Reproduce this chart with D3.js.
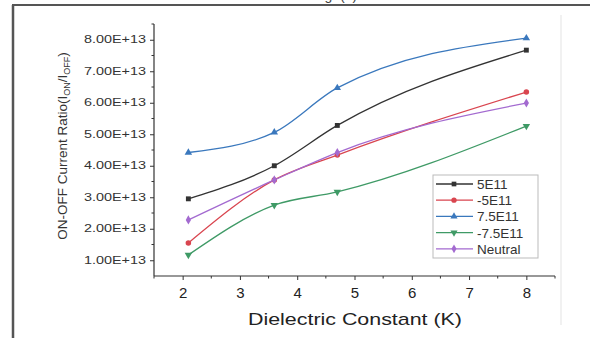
<!DOCTYPE html>
<html>
<head>
<meta charset="utf-8">
<script src="https://cdn.jsdelivr.net/npm/d3@7"></script>
<style>
  body { margin: 0; background: #fff; }
  svg { display: block; font-family: "Liberation Sans", Arial, sans-serif; }
</style>
</head>
<body>
<svg id="chart" width="590" height="338"></svg>
<script>
// data
const kValues = [2.1, 3.6, 4.7, 8];
const s5E11   = [2.95e13, 4.0e13, 5.28e13, 7.67e13];
const sM5E11  = [1.55e13, 3.55e13, 4.34e13, 6.34e13];
const s75E11  = [4.42e13, 5.06e13, 6.47e13, 8.05e13];
const sM75E11 = [1.17e13, 2.75e13, 3.17e13, 5.26e13];
const sNeutral = [2.28e13, 3.55e13, 4.42e13, 5.99e13];
const seriesNames = ["5E11", "-5E11", "7.5E11", "-7.5E11", "Neutral"];
const xTicks = [2, 3, 4, 5, 6, 7, 8];
const yTicks = [1e13, 2e13, 3e13, 4e13, 5e13, 6e13, 7e13, 8e13];

const series = [
  {name: seriesNames[0], vals: s5E11,   color: "#333333", sym: d3.symbolSquare},
  {name: seriesNames[1], vals: sM5E11,  color: "#d9454f", sym: d3.symbolCircle},
  {name: seriesNames[2], vals: s75E11,  color: "#3a78bd", sym: d3.symbolTriangle},
  {name: seriesNames[3], vals: sM75E11, color: "#3f9a66", sym: d3.symbolTriangle, flip: true},
  {name: seriesNames[4], vals: sNeutral, color: "#a36ad0", sym: d3.symbolDiamond}
];

const svg = d3.select("#chart");

// page frame (cropped figure scan)
svg.append("line").attr("x1", 13).attr("x2", 13).attr("y1", 5).attr("y2", 338)
  .attr("stroke", "#555").attr("stroke-width", 2.5);
svg.append("line").attr("x1", 12).attr("x2", 590).attr("y1", 5).attr("y2", 5)
  .attr("stroke", "#555").attr("stroke-width", 2);
svg.append("line").attr("x1", 561).attr("x2", 561).attr("y1", 15).attr("y2", 325)
  .attr("stroke", "#ececec").attr("stroke-width", 1.5);
svg.append("text").attr("x", 335).attr("y", 0).attr("text-anchor", "middle")
  .style("font-size", "14px").attr("fill", "#444").text("Fig. (b)");

const x = d3.scaleLinear().domain([1.5, 8.5]).range([154, 555]);
const y = d3.scaleLinear().domain([0.5e13, 8.5e13]).range([276, 24]);

// axes
const xAxis = d3.axisBottom(x).tickValues(xTicks).tickFormat(d3.format("d")).tickSize(4).tickPadding(7);
const gx = svg.append("g").attr("transform", `translate(0,${y.range()[0]})`).call(xAxis);
gx.select(".domain").attr("d", `M${x.range()[0]},0H${x.range()[1]}`).attr("stroke", "#333").attr("stroke-width", 1.2);
gx.selectAll(".tick line").attr("stroke", "#333");
gx.selectAll("text").style("font-size", "15px").attr("fill", "#222");
svg.append("g").attr("transform", `translate(0,${y.range()[0]})`)
  .selectAll("line").data(xTicks.map(d => d + 0.5).concat([1.5])).join("line")
  .attr("x1", d => x(d)).attr("x2", d => x(d)).attr("y1", 0).attr("y2", 2.5).attr("stroke", "#333");

const yAxis = d3.axisLeft(y).tickValues(yTicks)
  .tickFormat(d => (d / 1e13).toFixed(2) + "E+13").tickSize(4).tickPadding(4);
const gy = svg.append("g").attr("transform", `translate(${x.range()[0]},0)`).call(yAxis);
gy.select(".domain").attr("d", `M0,${y.range()[0]}V${y.range()[1]}`).attr("stroke", "#333").attr("stroke-width", 1.2);
gy.selectAll(".tick line").attr("stroke", "#333");
gy.selectAll("text").style("font-size", "10px").attr("fill", "#333")
  .attr("textLength", 62).attr("lengthAdjust", "spacingAndGlyphs");
svg.append("g").attr("transform", `translate(${x.range()[0]},0)`)
  .selectAll("line").data(yTicks.map(d => d + 0.5e13)).join("line")
  .attr("x1", -2.5).attr("x2", 0).attr("y1", d => y(d)).attr("y2", d => y(d)).attr("stroke", "#333");

// axis titles
svg.append("text").attr("x", 355).attr("y", 325).attr("text-anchor", "middle")
  .style("font-size", "17px").attr("fill", "#222")
  .attr("textLength", 214).attr("lengthAdjust", "spacingAndGlyphs")
  .text("Dielectric Constant (K)");
const yt = svg.append("text").attr("transform", "translate(67,146) rotate(-90)")
  .attr("text-anchor", "middle").style("font-size", "13.5px").attr("fill", "#333");
yt.append("tspan").text("ON-OFF Current Ratio(I");
yt.append("tspan").attr("dy", 3).style("font-size", "9px").text("ON");
yt.append("tspan").attr("dy", -3).text("/I");
yt.append("tspan").attr("dy", 3).style("font-size", "9px").text("OFF");
yt.append("tspan").attr("dy", -3).text(")");

// curves
const line = d3.line().x(d => x(d[0])).y(d => y(d[1])).curve(d3.curveMonotoneX);
series.forEach(s => {
  const pts = kValues.map((k, i) => [k, s.vals[i]]);
  svg.append("path").attr("d", line(pts)).attr("fill", "none")
    .attr("stroke", s.color).attr("stroke-width", 1.3);
  svg.append("g").selectAll("path").data(pts).join("path")
    .attr("d", d3.symbol().type(s.sym).size(24))
    .attr("transform", d => `translate(${x(d[0])},${y(d[1])})${s.flip ? " rotate(180)" : ""}`)
    .attr("fill", s.color);
});

// legend
const lg = svg.append("g").attr("transform", "translate(433,175)");
lg.append("rect").attr("width", 105).attr("height", 83)
  .attr("fill", "#fff").attr("stroke", "#bbb").attr("stroke-width", 1);
series.forEach((s, i) => {
  const ly = 9 + i * 16.2;
  lg.append("line").attr("x1", 3).attr("x2", 40).attr("y1", ly).attr("y2", ly)
    .attr("stroke", s.color).attr("stroke-width", 1.3);
  lg.append("path").attr("d", d3.symbol().type(s.sym).size(22))
    .attr("transform", `translate(21,${ly})${s.flip ? " rotate(180)" : ""}`).attr("fill", s.color);
  lg.append("text").attr("x", 44).attr("y", ly + 5).style("font-size", "13.5px")
    .attr("fill", "#333").text(s.name);
});
</script>
</body>
</html>
